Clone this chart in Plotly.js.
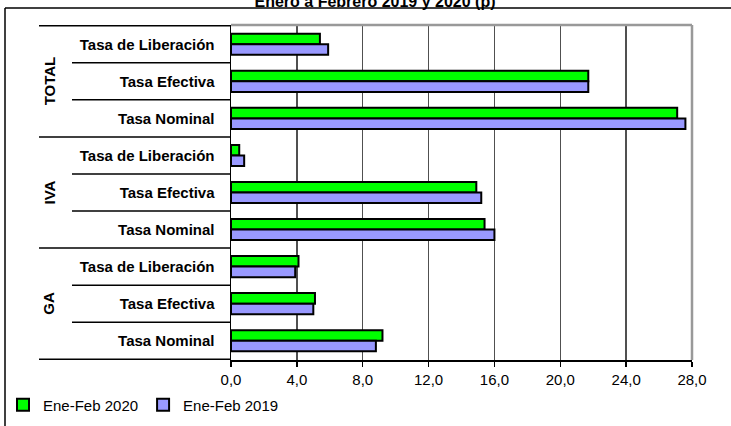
<!DOCTYPE html>
<html>
<head>
<meta charset="utf-8">
<script src="https://cdn.plot.ly/plotly-3.0.1.min.js"></script>
<style>html,body{margin:0;padding:0;background:#fff;}#chart{width:731px;height:426px;}</style>
</head>
<body>
<div id="chart"></div>
<script>
const titleText = "Enero a Febrero 2019 y 2020 (p)";
const groups = ["TOTAL", "IVA", "GA"];
const subcats = ["Tasa de Liberación", "Tasa Efectiva", "Tasa Nominal"];
const seriesNames = ["Ene-Feb 2020", "Ene-Feb 2019"];
// values listed top to bottom: TOTAL (Lib, Efe, Nom), IVA (...), GA (...)
const values2020 = [5.4, 21.7, 27.1, 0.5, 14.9, 15.4, 4.1, 5.1, 9.2];
const values2019 = [5.9, 21.7, 27.6, 0.8, 15.2, 16.0, 3.9, 5.0, 8.8];
const xTicks = [0, 4, 8, 12, 16, 20, 24, 28];

const keys = [], labels = [];
groups.forEach(g => subcats.forEach(s => { keys.push(g + "|" + s); labels.push(s); }));

const W = 731, H = 426, ML = 231, MR = 39, MT = 25, MB = 66;
const PW = W - ML - MR, PH = H - MT - MB;
const px = v => (v - ML) / PW;     // pixel x -> paper
const py = v => (H - MB - v) / PH; // pixel y -> paper

const traces = [
  {type: "bar", orientation: "h", name: seriesNames[0], x: values2020, y: keys,
   marker: {color: "#00FF00", line: {color: "#000000", width: 2}}, hoverinfo: "x"},
  {type: "bar", orientation: "h", name: seriesNames[1], x: values2019, y: keys,
   marker: {color: "#9999FF", line: {color: "#000000", width: 2}}, hoverinfo: "x"}
];

const shapes = [];
const n = keys.length;
const per = subcats.length;
// group separators
for (let i = 0; i <= groups.length; i++) {
  shapes.push({type: "line", xref: "paper", yref: "y", x0: px(39), x1: 0,
    y0: i * per - 0.5, y1: i * per - 0.5, line: {color: "#000", width: 1.5}});
}
// category separators
for (let i = 1; i < n; i++) {
  if (i % per === 0) continue;
  shapes.push({type: "line", xref: "paper", yref: "y", x0: px(72), x1: 0,
    y0: i - 0.5, y1: i - 0.5, line: {color: "#000", width: 1.5}});
}
// plot border top & right (gray)
shapes.push({type: "line", xref: "paper", yref: "paper", x0: 0, x1: 1, y0: 1, y1: 1, line: {color: "#999", width: 2.5}});
shapes.push({type: "line", xref: "paper", yref: "paper", x0: 1, x1: 1, y0: 0, y1: 1, line: {color: "#999", width: 2.5}});
// outer chart border (top & left)
shapes.push({type: "line", xref: "paper", yref: "paper", x0: px(5), x1: px(731), y0: py(8), y1: py(8), line: {color: "#000", width: 1.5}});
shapes.push({type: "line", xref: "paper", yref: "paper", x0: px(5), x1: px(5), y0: py(8), y1: py(426), line: {color: "#000", width: 1.5}});

const annotations = groups.map((g, i) => ({
  text: "<b>" + g + "</b>", xref: "paper", yref: "y", x: px(49), y: i * per + 1,
  showarrow: false, textangle: -90, xanchor: "center", yanchor: "middle",
  font: {family: "Liberation Sans, Arial, sans-serif", size: 15, color: "#000"}
}));

const layout = {
  width: W, height: H,
  margin: {l: ML, r: MR, t: MT, b: MB, pad: 0},
  paper_bgcolor: "#fff", plot_bgcolor: "#fff",
  separators: ",.",
  title: {text: "<b>" + titleText + "</b>", xref: "container", yref: "container",
    x: 375 / W, y: 1 - 1 / H, xanchor: "center", yanchor: "middle",
    font: {family: "Liberation Sans, Arial, sans-serif", size: 16, color: "#000"}},
  barmode: "group", bargap: 0.43, bargroupgap: 0,
  xaxis: {range: [0, 28], tickvals: xTicks, tickformat: ".1f", showgrid: true,
    gridcolor: "#505050", gridwidth: 1.5, zeroline: false, showline: true, linecolor: "#000", linewidth: 1.5,
    ticks: "outside", ticklen: 5, tickcolor: "#000", tickwidth: 1.5,
    tickfont: {family: "Liberation Sans, Arial, sans-serif", size: 15, color: "#000"}, fixedrange: true},
  yaxis: {type: "category", autorange: "reversed", tickvals: keys, ticktext: labels,
    showgrid: false, zeroline: false, showline: true, linecolor: "#000", linewidth: 1.5,
    ticks: "", ticklabelstandoff: 12,
    tickfont: {family: "Liberation Sans, Arial, sans-serif", size: 15, color: "#000", weight: "bold"}, fixedrange: true},
  showlegend: true,
  legend: {orientation: "h", xref: "container", yref: "container", x: 3 / W, y: 1 - 405 / H,
    xanchor: "left", yanchor: "middle", bgcolor: "rgba(0,0,0,0)",
    font: {family: "Liberation Sans, Arial, sans-serif", size: 15, color: "#000"},
    itemwidth: 30},
  shapes: shapes,
  annotations: annotations
};

Plotly.newPlot("chart", traces, layout, {displayModeBar: false, staticPlot: true});
</script>
</body>
</html>
